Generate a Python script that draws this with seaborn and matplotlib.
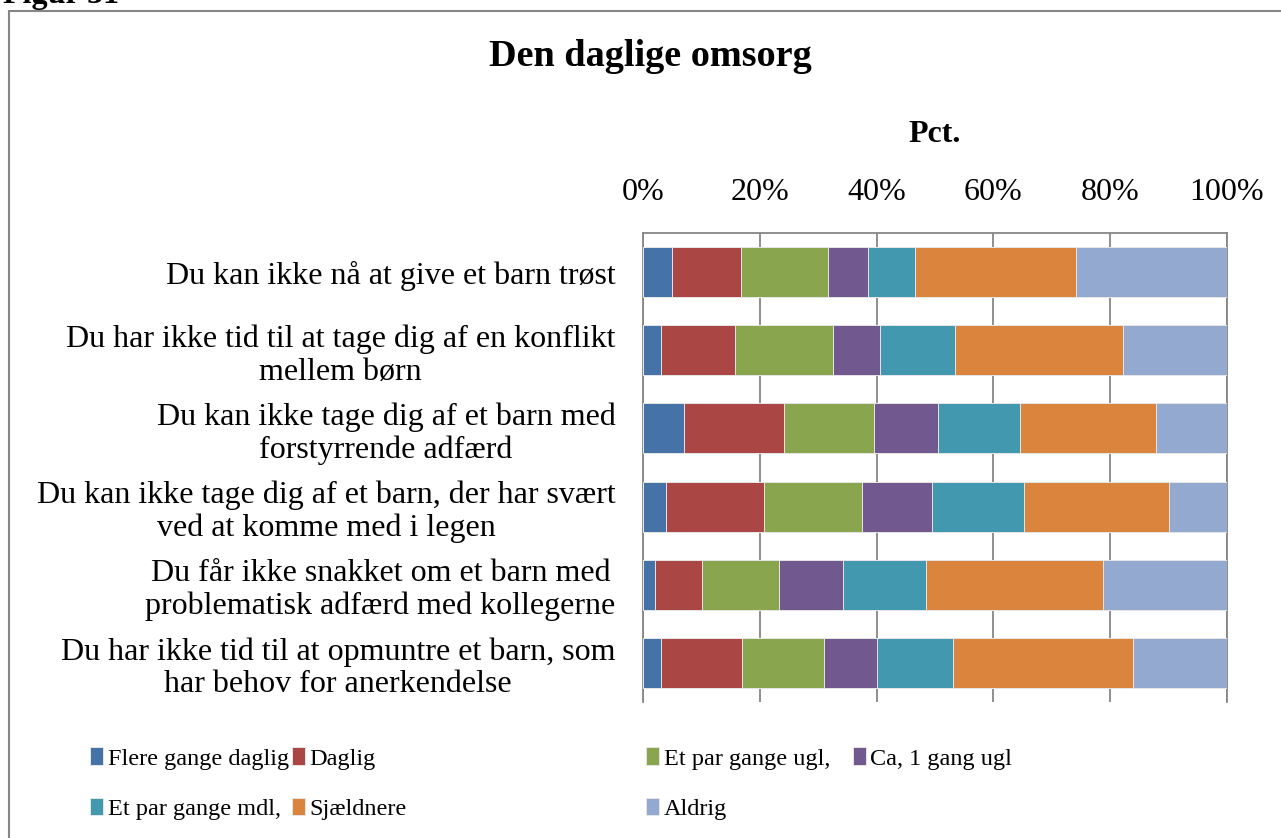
import matplotlib
matplotlib.use("Agg")
import matplotlib.pyplot as plt
import seaborn as sns
import numpy as np
import pandas as pd
from matplotlib.patches import Rectangle
from matplotlib.ticker import FuncFormatter

categories = [
    "Du kan ikke nå at give et barn trøst",
    "Du har ikke tid til at tage dig af en konflikt\nmellem børn",
    "Du kan ikke tage dig af et barn med\nforstyrrende adfærd",
    "Du kan ikke tage dig af et barn, der har svært\nved at komme med i legen",
    "Du får ikke snakket om et barn med\nproblematisk adfærd med kollegerne",
    "Du har ikke tid til at opmuntre et barn, som\nhar behov for anerkendelse",
]
series_names = ["Flere gange daglig", "Daglig", "Et par gange ugl,", "Ca, 1 gang ugl",
                "Et par gange mdl,", "Sjældnere", "Aldrig"]
flere_gange_daglig = [5.0, 3.0, 7.0, 3.9, 2.0, 3.0]
daglig             = [11.75, 12.7, 17.2, 16.8, 8.1, 13.9]
et_par_ugl         = [14.95, 16.9, 15.3, 16.8, 13.1, 14.1]
ca_1_gang_ugl      = [6.9, 8.0, 11.0, 12.0, 11.1, 9.0]
et_par_mdl         = [8.0, 12.8, 14.1, 15.8, 14.2, 13.0]
sjaeldnere         = [27.6, 28.8, 23.3, 24.8, 30.3, 31.0]
aldrig             = [25.8, 17.8, 12.1, 9.9, 21.2, 16.0]
colors = ["#4572A7", "#AA4643", "#89A54E", "#71588F", "#4198AF", "#DB843D", "#93A9CF"]
x_ticks = [0, 20, 40, 60, 80, 100]

series_values = [flere_gange_daglig, daglig, et_par_ugl, ca_1_gang_ugl,
                 et_par_mdl, sjaeldnere, aldrig]

sns.set_theme(style="white")
plt.rcParams['font.family'] = ['Liberation Serif', 'DejaVu Serif']
plt.rcParams['text.color'] = 'black'
plt.rcParams['axes.labelcolor'] = 'black'
plt.rcParams['xtick.color'] = 'black'
plt.rcParams['ytick.color'] = 'black'

fig = plt.figure(figsize=(12.81, 8.38), dpi=100)
W, H = 1281, 838
ax = fig.add_axes([643.3 / W, 1 - 702 / H, (1226.7 - 643.3) / W, (702 - 233) / H])

cum = np.cumsum(np.array(series_values), axis=0)
df = pd.DataFrame({"cat": categories})
for i in reversed(range(len(series_names))):
    df["val"] = cum[i]
    sns.barplot(data=df, x="val", y="cat", orient="h", color=colors[i], saturation=1,
                width=0.64, label=series_names[i], edgecolor="#e6e6e6", linewidth=0.7,
                ax=ax, zorder=3)

handles, labels = ax.get_legend_handles_labels()
hmap = dict(zip(labels, handles))
if ax.get_legend() is not None:
    ax.get_legend().remove()

ax.set_xlim(0, 100)
ax.set_ylim(len(categories) - 0.5, -0.5)
ax.set_xticks(x_ticks)
ax.xaxis.set_major_formatter(FuncFormatter(lambda v, p: f"{v:.0f}%"))
ax.xaxis.tick_top()
ax.xaxis.set_label_position("top")
ax.set_xlabel("Pct.", fontsize=23, fontweight="bold", labelpad=25.5)
ax.set_ylabel("")
ax.tick_params(axis="x", length=0, pad=19, labelsize=23, labelcolor="black")
ax.tick_params(axis="y", length=0, pad=20, labelsize=23, labelcolor="black")
for t in ax.get_yticklabels():
    t.set_multialignment("center")
    t.set_linespacing(1.17)
ax.grid(axis="x", color="#868686", linewidth=1.3, zorder=0)
ax.set_axisbelow(True)
for s in ["top", "left", "right"]:
    ax.spines[s].set_visible(True)
    ax.spines[s].set_color("#868686")
    ax.spines[s].set_linewidth(1.3)
ax.spines["bottom"].set_visible(False)

# title and outer frame
fig.text(650 / W, 1 - 56 / H, "Den daglige omsorg", ha="center", va="center",
         fontsize=27.5, fontweight="bold", color="black")
fig.text(3 / W, 1 - 3 / H, "Figur 31", ha="left", va="baseline", fontsize=23,
         fontweight="bold", color="black")
fig.patches.append(Rectangle((8.5 / W, -0.1), 1.2, 1 - 11.5 / H + 0.1,
                             transform=fig.transFigure, fill=False,
                             edgecolor="#868686", linewidth=1.5))

# legend: one entry per position (x of marker, y centre)
legend_pos = {
    "Flere gange daglig": (90, 758.5),
    "Daglig": (292, 758.5),
    "Et par gange ugl,": (646, 758.5),
    "Ca, 1 gang ugl": (853, 758.5),
    "Et par gange mdl,": (90, 809),
    "Sjældnere": (292, 809),
    "Aldrig": (646, 809),
}
for lab, (xpx, ypx) in legend_pos.items():
    fig.legend([hmap[lab]], [lab], loc="center left",
               bbox_to_anchor=(xpx / W, 1 - ypx / H), frameon=False,
               fontsize=17.5, handlelength=0.52, handleheight=0.7,
               handletextpad=0.2, borderpad=0, borderaxespad=0)

fig.savefig("out.png", dpi=100)
